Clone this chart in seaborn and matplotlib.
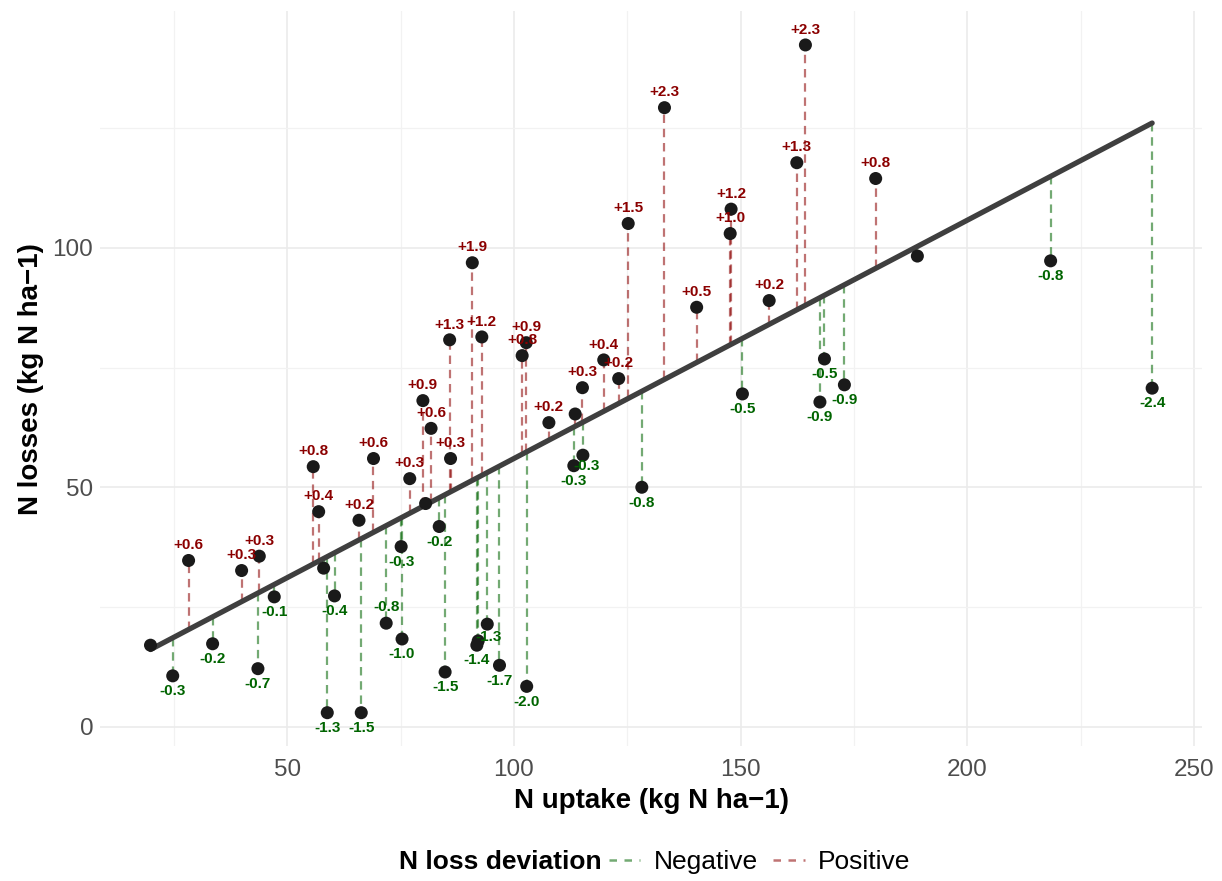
import numpy as np
import pandas as pd
import matplotlib
matplotlib.use("Agg")
import matplotlib.pyplot as plt
from matplotlib.lines import Line2D
import seaborn as sns

# ---- data ----
n_uptake = [19.8, 24.7, 28.2, 33.5, 39.9, 43.8, 43.5, 47.1, 55.7, 56.9,
            58.0, 60.4, 58.8, 65.8, 66.3, 69.0, 71.8, 75.1, 75.3, 77.0,
            79.9, 80.5, 81.7, 83.5, 84.8, 85.8, 86.0, 90.8, 91.8, 92.1,
            92.9, 94.1, 96.8, 101.8, 102.7, 102.8, 107.7, 113.2, 113.5, 115.1,
            115.2, 119.8, 123.1, 125.2, 128.2, 133.2, 140.3, 147.7, 147.9, 150.4,
            156.3, 162.4, 164.3, 167.5, 168.5, 172.9, 179.8, 189.0, 218.4, 240.8]
n_losses = [17.0, 10.6, 34.7, 17.3, 32.6, 35.6, 12.1, 27.1, 54.3, 44.9,
            33.1, 27.3, 2.9, 43.1, 2.9, 56.0, 21.6, 37.6, 18.3, 51.8,
            68.1, 46.6, 62.3, 41.8, 11.4, 80.8, 56.0, 96.9, 17.0, 17.9,
            81.4, 21.4, 12.8, 77.5, 80.2, 8.4, 63.5, 54.5, 65.3, 70.8,
            56.7, 76.6, 72.7, 105.1, 50.0, 129.3, 87.6, 103.0, 108.1, 69.5,
            89.0, 117.8, 142.4, 67.8, 76.8, 71.4, 114.5, 98.3, 97.3, 70.7]
dev_labels = ["", "-0.3", "+0.6", "-0.2", "+0.3", "+0.3", "-0.7", "-0.1", "+0.8", "+0.4",
              "", "-0.4", "-1.3", "+0.2", "-1.5", "+0.6", "-0.8", "-0.3", "-1.0", "+0.3",
              "+0.9", "", "+0.6", "-0.2", "-1.5", "+1.3", "+0.3", "+1.9", "-1.4", "",
              "+1.2", "-1.3", "-1.7", "+0.8", "+0.9", "-2.0", "+0.2", "-0.3", "", "+0.3",
              "-0.3", "+0.4", "+0.2", "+1.5", "-0.8", "+2.3", "+0.5", "+1.0", "+1.2", "-0.5",
              "+0.2", "+1.3", "+2.3", "-0.9", "-0.5", "-0.9", "+0.8", "", "-0.8", "-2.4"]

x_ticks = [50, 100, 150, 200, 250]
y_ticks = [0, 50, 100]

df = pd.DataFrame({"uptake": n_uptake, "losses": n_losses, "label": dev_labels})
slope, intercept = np.polyfit(df["uptake"], df["losses"], 1)
df["fitted"] = intercept + slope * df["uptake"]
df["sign"] = np.where(df["losses"] >= df["fitted"], "Positive", "Negative")

seg_colors = {"Negative": "darkgreen", "Positive": "darkred"}
txt_colors = {"Negative": "#006400", "Positive": "#8B0000"}
# a few labels nudged as in the reference (label index -> offset in points)
label_offsets = {16: (0, 11.5), 31: (1, -9), 40: (3, -8)}

sns.set_theme(style="whitegrid")
plt.rcParams["font.family"] = ["Liberation Sans", "DejaVu Sans"]
plt.rcParams["text.color"] = "black"

fig = plt.figure(figsize=(12.22, 8.81), dpi=100)
ax = fig.add_axes([0.082, 0.153, 0.902, 0.834])

# dashed residual segments
for sgn, sub in df.groupby("sign"):
    ax.vlines(sub["uptake"], sub["fitted"], sub["losses"], colors=seg_colors[sgn],
              alpha=0.55, linewidth=1.6, linestyles=(0, (3.8, 2.6)), zorder=2)

# regression line
sns.regplot(data=df, x="uptake", y="losses", scatter=False, ci=None, ax=ax,
            line_kws=dict(color="#3f3f3f", linewidth=3.8, zorder=3))

# points
sns.scatterplot(data=df, x="uptake", y="losses", ax=ax, color="#1a1a1a", s=88,
                edgecolor="none", zorder=4, legend=False)

# labels
for i, r in df.iterrows():
    if not r["label"]:
        continue
    pos = r["label"].startswith("+")
    off = label_offsets.get(i, (0, 11 if pos else -11))
    ax.annotate(r["label"], (r["uptake"], r["losses"]),
                xytext=off, textcoords="offset points",
                ha="center", va="center", fontsize=11, fontweight="bold",
                color=txt_colors["Positive" if pos else "Negative"], zorder=5)

ax.set_xlim(8.7, 251.9)
ax.set_ylim(-4.1, 149.4)
ax.set_xticks(x_ticks)
ax.set_yticks(y_ticks)
ax.set_xticks([25, 75, 125, 175, 225], minor=True)
ax.set_yticks([25, 75, 125], minor=True)
ax.grid(which="major", color="#EBEBEB", linewidth=1.2)
ax.grid(which="minor", color="#F2F2F2", linewidth=0.9)
ax.set_facecolor("white")
for s in ax.spines.values():
    s.set_visible(False)
ax.tick_params(axis="both", which="both", length=0, labelsize=17.5, labelcolor="#4D4D4D")
ax.tick_params(axis="x", pad=9)
ax.tick_params(axis="y", pad=5)

ax.set_xlabel("N uptake (kg N ha\u22121)", fontsize=20, fontweight="bold", color="black", labelpad=5)
ax.set_ylabel("N losses (kg N ha\u22121)", fontsize=20, fontweight="bold", color="black", labelpad=6)

# legend at the bottom
handles = [Line2D([0], [0], color="darkgreen", alpha=0.55, lw=1.8, linestyle=(0, (3, 3))),
           Line2D([0], [0], color="darkred", alpha=0.55, lw=1.8, linestyle=(0, (3, 3)))]
fig.text(0.492, 0.0216, "N loss deviation", ha="right", va="center", fontsize=19,
         fontweight="bold", color="black")
fig.legend(handles, ["Negative", "Positive"], loc="center left", bbox_to_anchor=(0.498, 0.0216),
           ncol=2, frameon=False, fontsize=19, handlelength=1.2, handletextpad=0.5,
           columnspacing=0.6, borderpad=0, borderaxespad=0, labelcolor="black")

fig.savefig("out.png", dpi=100, facecolor="white")
